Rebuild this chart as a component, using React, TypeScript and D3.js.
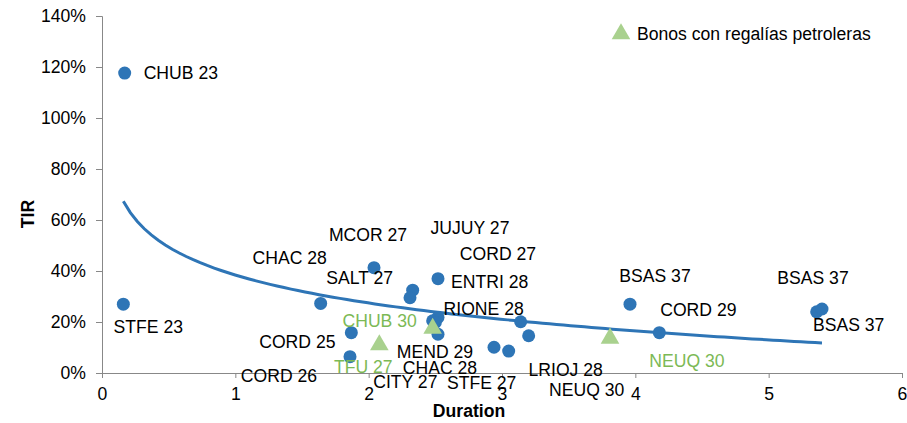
import React, { useEffect, useRef } from "react";
import * as d3 from "d3";

// bonos provinciales: duration (años) y TIR (%)
const bondNames = [
  "CHUB 23", "STFE 23", "CHAC 28", "MCOR 27", "SALT 27", "JUJUY 27", "CORD 27",
  "ENTRI 28", "RIONE 28", "MEND 29", "CITY 27", "CHAC 28", "STFE 27", "NEUQ 30",
  "LRIOJ 28", "BSAS 37", "CORD 29", "BSAS 37", "BSAS 37", "CORD 25", "CORD 26",
];
const bondDuration = [
  0.17, 0.16, 1.64, 2.04, 2.33, 2.31, 2.52, 2.52, 2.48, 2.52, 2.5, 2.94, 3.05,
  3.14, 3.2, 3.96, 4.18, 5.36, 5.4, 1.87, 1.86,
];
const bondTir = [
  117.6, 27, 27.3, 41.3, 32.5, 29.5, 21.8, 37, 20.5, 15.2, 19.8, 10.1, 8.6,
  20.1, 14.6, 27, 15.8, 24, 25.1, 15.8, 6.4,
];

// bonos con regalías petroleras
const oilNames = ["CHUB 30", "TFU 27", "NEUQ 30"];
const oilDuration = [2.48, 2.08, 3.81];
const oilTir = [17.5, 11, 13.6];

const xTicks = [0, 1, 2, 3, 4, 5, 6];
const yTicks = [0, 20, 40, 60, 80, 100, 120, 140];

// desplazamiento de etiquetas (px), ubicadas a mano como en el gráfico
const bondLabelOffsets = [
  [19, 0, "start"], [25, 23], [-31, -45], [-6, -33], [-53, -12], [60, -70],
  [60, -63], [13, 3, "start"], [51, -12], [-3, 18], [-30, 59], [-54, 21],
  [-27, 32], [66, 68], [37, 34], [25, -28], [39, -23], [32, 13], [-9, -31],
  [-54, 9], [-71, 19],
];
const oilLabelOffsets = [[-53, -7], [-16, 22], [77, 23]];

const W = 907;
const H = 423;
const BLUE = "#2E75B6";
const GREEN = "#A9D18E";
const GREEN_TEXT = "#7CB955";
const FONT = "'Liberation Sans', Arial, sans-serif";
const FS = "17.6px";

function App() {
  const ref = useRef<SVGSVGElement>(null);

  useEffect(() => {
    const svg = d3.select(ref.current);
    svg.selectAll("*").remove();

    const x = d3.scaleLinear().domain([0, 6]).range([102, 902]);
    const y = d3.scaleLinear().domain([0, 140]).range([373, 16]);

    // eje y
    const yAxis = svg
      .append("g")
      .attr("transform", "translate(102,0)")
      .call(
        d3
          .axisLeft(y)
          .tickValues(yTicks)
          .tickSize(6)
          .tickPadding(10)
          .tickFormat((d) => d + "%")
      );
    yAxis.select(".domain").attr("stroke", "#888");
    yAxis.selectAll(".tick line").attr("stroke", "#888");
    yAxis
      .selectAll(".tick text")
      .attr("fill", "#000")
      .style("font", `${FS} ${FONT}`);

    // eje x
    const xAxis = svg
      .append("g")
      .attr("transform", "translate(0,373)")
      .call(
        d3
          .axisBottom(x)
          .tickValues(xTicks)
          .tickSize(5)
          .tickPadding(10)
          .tickSizeOuter(0)
          .tickFormat(d3.format("d"))
      );
    xAxis.select(".domain").attr("stroke", "#888");
    xAxis.selectAll(".tick line").attr("stroke", "#888");
    xAxis
      .selectAll(".tick text")
      .attr("fill", "#000")
      .style("font", `${FS} ${FONT}`);

    svg
      .append("text")
      .attr("x", 469)
      .attr("y", 417)
      .attr("text-anchor", "middle")
      .style("font", `bold ${FS} ${FONT}`)
      .text("Duration");
    svg
      .append("text")
      .attr("transform", "translate(34,214) rotate(-90)")
      .attr("text-anchor", "middle")
      .style("font", `bold ${FS} ${FONT}`)
      .text("TIR");

    // tendencia logarítmica (mínimos cuadrados sobre los bonos)
    const lx = bondDuration.map((d) => Math.log(d));
    const mx = d3.mean(lx)!;
    const my = d3.mean(bondTir)!;
    const b =
      d3.sum(lx, (v, i) => (v - mx) * (bondTir[i] - my)) /
      d3.sum(lx, (v) => (v - mx) ** 2);
    const a = my - b * mx;
    const [x0, x1] = d3.extent(bondDuration) as [number, number];
    const trend = d3.range(0, 101).map((i) => {
      const xv = x0 + ((x1 - x0) * i) / 100;
      return [xv, a + b * Math.log(xv)];
    });
    svg
      .append("path")
      .datum(trend)
      .attr("fill", "none")
      .attr("stroke", BLUE)
      .attr("stroke-width", 3)
      .attr(
        "d",
        d3
          .line()
          .x((d) => x(d[0]))
          .y((d) => y(d[1]))
      );

    // bonos
    svg
      .append("g")
      .selectAll("circle")
      .data(bondDuration)
      .join("circle")
      .attr("cx", (d) => x(d))
      .attr("cy", (d, i) => y(bondTir[i]))
      .attr("r", 6.5)
      .attr("fill", BLUE);

    svg
      .append("g")
      .selectAll("path")
      .data(oilDuration)
      .join("path")
      .attr("transform", (d, i) => `translate(${x(d)},${y(oilTir[i])})`)
      .attr("d", d3.symbol(d3.symbolTriangle, 150)())
      .attr("fill", GREEN);

    svg
      .append("g")
      .selectAll("text")
      .data(bondNames)
      .join("text")
      .attr("x", (d, i) => x(bondDuration[i]) + (bondLabelOffsets[i][0] as number))
      .attr("y", (d, i) => y(bondTir[i]) + (bondLabelOffsets[i][1] as number))
      .attr("text-anchor", (d, i) => (bondLabelOffsets[i][2] as string) || "middle")
      .attr("dominant-baseline", "central")
      .attr("fill", "#000")
      .style("font", `${FS} ${FONT}`)
      .text((d) => d);

    svg
      .append("g")
      .selectAll("text")
      .data(oilNames)
      .join("text")
      .attr("x", (d, i) => x(oilDuration[i]) + oilLabelOffsets[i][0])
      .attr("y", (d, i) => y(oilTir[i]) + oilLabelOffsets[i][1])
      .attr("text-anchor", "middle")
      .attr("dominant-baseline", "central")
      .attr("fill", GREEN_TEXT)
      .style("font", `${FS} ${FONT}`)
      .text((d) => d);

    // leyenda
    svg
      .append("path")
      .attr("transform", "translate(621,34)")
      .attr("d", d3.symbol(d3.symbolTriangle, 150)())
      .attr("fill", GREEN);
    svg
      .append("text")
      .attr("x", 637)
      .attr("y", 34)
      .attr("dominant-baseline", "central")
      .style("font", `${FS} ${FONT}`)
      .text("Bonos con regalías petroleras");
  }, []);

  return (
    <svg
      ref={ref}
      width={W}
      height={H}
      style={{ position: "absolute", left: 0, top: 0, background: "#fff" }}
    />
  );
}

export default App;
